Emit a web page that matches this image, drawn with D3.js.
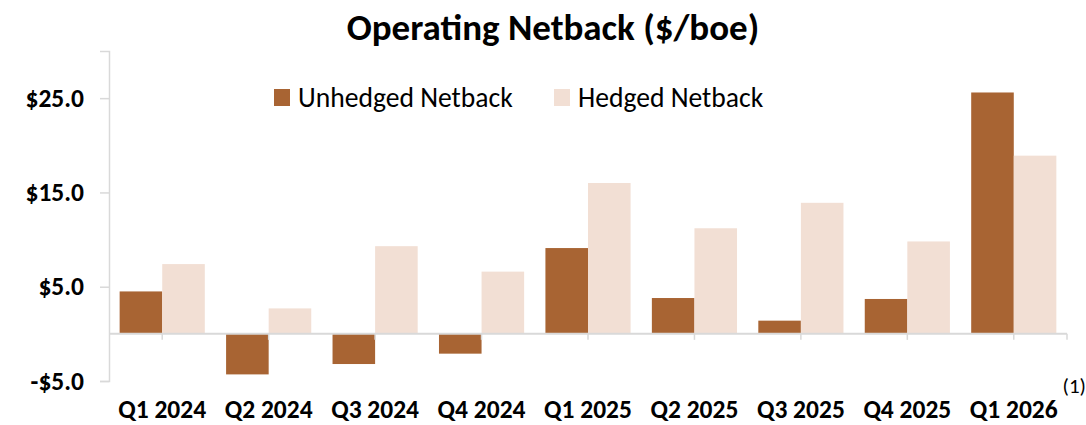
<!DOCTYPE html>
<html>
<head>
<meta charset="utf-8">
<script src="https://cdn.jsdelivr.net/npm/d3@7"></script>
<style>
  body { margin: 0; background: #fff; }
  svg { display: block; font-family: Carlito, Calibri, Lato, sans-serif; }
</style>
</head>
<body>
<div id="chart"></div>
<script>
const quarters = ["Q1 2024", "Q2 2024", "Q3 2024", "Q4 2024", "Q1 2025", "Q2 2025", "Q3 2025", "Q4 2025", "Q1 2026"];
const unhedged = [4.5, -4.3, -3.2, -2.1, 9.1, 3.8, 1.4, 3.7, 25.6];
const hedged = [7.4, 2.7, 9.3, 6.6, 16.0, 11.2, 13.9, 9.8, 18.9];
const yTicks = [-5, 5, 15, 25];
const seriesNames = ["Unhedged Netback", "Hedged Netback"];
const colors = ["#A86433", "#F2DFD4"];

const width = 1086;
const height = 425;
const margin = { top: 51, right: 19, bottom: 44, left: 109 };

const svg = d3.select("#chart")
  .append("svg")
  .attr("width", width)
  .attr("height", height);

const x = d3.scaleBand()
  .domain(quarters)
  .range([margin.left, width - margin.right])
  .paddingInner(0.2)
  .paddingOuter(0.1);

const x1 = d3.scaleBand()
  .domain(seriesNames)
  .range([0, x.bandwidth()]);

const y = d3.scaleLinear()
  .domain([-5, 30])
  .range([height - margin.bottom, margin.top]);

// title
svg.append("text")
  .attr("x", 553)
  .attr("y", 40)
  .attr("text-anchor", "middle")
  .attr("font-size", 37)
  .attr("font-weight", "bold")
  .text("Operating Netback ($/boe)");

// y axis
const yAxis = svg.append("g")
  .attr("transform", `translate(${margin.left},0)`)
  .call(d3.axisLeft(y).tickValues(yTicks).tickSize(9).tickPadding(16)
    .tickFormat(d => (d < 0 ? "-$" : "$") + Math.abs(d).toFixed(1)));
yAxis.select(".domain").attr("stroke", "#D9D9D9").attr("stroke-width", 1.5);
yAxis.selectAll(".tick line").attr("stroke", "#D9D9D9").attr("stroke-width", 1.5);
yAxis.selectAll(".tick text")
  .attr("font-family", "Carlito, Calibri, Lato, sans-serif")
  .attr("font-size", 25.5)
  .attr("font-weight", "bold")
  .attr("fill", "#000");

// bars
const data = quarters.map((q, i) => ({ q, values: [unhedged[i], hedged[i]] }));
const groups = svg.selectAll(".group")
  .data(data)
  .enter()
  .append("g")
  .attr("transform", d => `translate(${x(d.q)},0)`);

groups.selectAll("rect")
  .data(d => d.values.map((v, j) => ({ v, name: seriesNames[j], color: colors[j] })))
  .enter()
  .append("rect")
  .attr("x", d => x1(d.name))
  .attr("width", x1.bandwidth())
  .attr("y", d => y(Math.max(0, d.v)))
  .attr("height", d => Math.abs(y(d.v) - y(0)))
  .attr("fill", d => d.color);

// zero line with ticks at category centres
const xAxis = svg.append("g")
  .attr("transform", `translate(0,${y(0)})`)
  .call(d3.axisBottom(x).tickSize(6).tickFormat(""));
xAxis.select(".domain").remove();
xAxis.selectAll(".tick line").attr("stroke", "#D9D9D9").attr("stroke-width", 1.5);
svg.append("line")
  .attr("x1", margin.left)
  .attr("x2", width - margin.right)
  .attr("y1", y(0))
  .attr("y2", y(0))
  .attr("stroke", "#D9D9D9")
  .attr("stroke-width", 2);
svg.append("line")
  .attr("x1", width - margin.right)
  .attr("x2", width - margin.right)
  .attr("y1", y(0))
  .attr("y2", y(0) + 6)
  .attr("stroke", "#D9D9D9")
  .attr("stroke-width", 1.5);

// category labels
svg.selectAll(".xlabel")
  .data(quarters)
  .enter()
  .append("text")
  .attr("x", d => x(d) + x.bandwidth() / 2)
  .attr("y", 418)
  .attr("text-anchor", "middle")
  .attr("font-size", 25.5)
  .attr("font-weight", "bold")
  .text(d => d);

// legend
const legendX = [274, 554];
const legend = svg.selectAll(".legend")
  .data(seriesNames)
  .enter()
  .append("g")
  .attr("transform", (d, i) => `translate(${legendX[i]},89)`);
legend.append("rect")
  .attr("width", 16)
  .attr("height", 17)
  .attr("fill", (d, i) => colors[i]);
legend.append("text")
  .attr("x", 24)
  .attr("y", 18)
  .attr("font-size", 27.6)
  .text(d => d);

// footnote
svg.append("text")
  .attr("x", 1086)
  .attr("y", 393)
  .attr("text-anchor", "end")
  .attr("font-size", 21)
  .text("(1)");
</script>
</body>
</html>
